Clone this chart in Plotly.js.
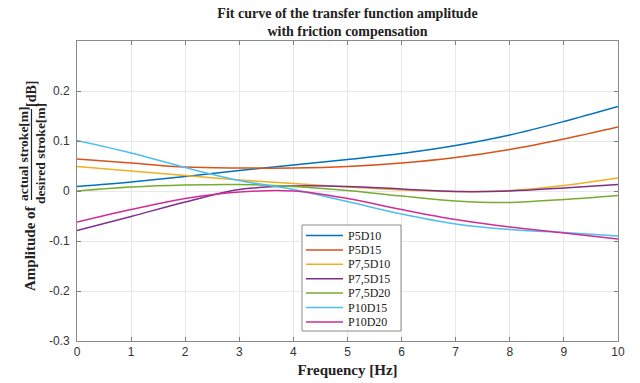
<!DOCTYPE html>
<html>
<head>
<meta charset="utf-8">
<script src="https://cdn.plot.ly/plotly-3.0.1.min.js"></script>
<style>html,body{margin:0;padding:0;background:#fff;}#chart{width:640px;height:383px;}</style>
</head>
<body>
<div id="chart"></div>
<script>
const freq = [0, 1, 2, 3, 4, 5, 6, 7, 8, 9, 10];
const seriesNames = ["P5D10", "P5D15", "P7,5D10", "P7,5D15", "P7,5D20", "P10D15", "P10D20"];
const P5D10   = [0.009, 0.018, 0.029, 0.041, 0.052, 0.063, 0.075, 0.091, 0.112, 0.139, 0.169];
const P5D15   = [0.064, 0.056, 0.048, 0.046, 0.046, 0.049, 0.056, 0.067, 0.083, 0.104, 0.128];
const P75D10  = [0.049, 0.040, 0.031, 0.022, 0.015, 0.008, 0.002, -0.001, 0.001, 0.011, 0.026];
const P75D15  = [-0.079, -0.051, -0.022, 0.003, 0.010, 0.009, 0.004, -0.001, 0.000, 0.006, 0.013];
const P75D20  = [0.000, 0.008, 0.012, 0.013, 0.009, 0.001, -0.010, -0.020, -0.023, -0.017, -0.009];
const P10D15  = [0.101, 0.076, 0.047, 0.021, 0.003, -0.021, -0.046, -0.066, -0.077, -0.083, -0.090];
const P10D20  = [-0.062, -0.037, -0.015, -0.002, 0.000, -0.015, -0.037, -0.057, -0.072, -0.084, -0.096];
const seriesValues = [P5D10, P5D15, P75D10, P75D15, P75D20, P10D15, P10D20];
const colors = ["#0072BD", "#D95319", "#EDB120", "#7E2F8E", "#77AC30", "#4DBEEE", "#D12D95"];
const xTicks = [0, 1, 2, 3, 4, 5, 6, 7, 8, 9, 10];
const yTicks = [-0.3, -0.2, -0.1, 0, 0.1, 0.2];
const yTickText = ["-0.3", "-0.2", "-0.1", "0", "0.1", "0.2"];

const traces = seriesNames.map((n, i) => ({
  x: freq, y: seriesValues[i], name: n, type: "scatter", mode: "lines",
  line: {color: colors[i], width: 1.5, shape: "spline", smoothing: 1}
}));

const serif = "Liberation Serif, Times New Roman, serif";
const sans = "Liberation Sans, Arial, sans-serif";
const W = 541, H = 300, L = 77, T = 41;
const px = v => (v - L) / W;
const py = v => (T + H - v) / H;

const annotations = [
  {text: "<b>Amplitude of</b>", textangle: -90, xref: "paper", yref: "paper",
   x: px(30), y: py(248), xanchor: "center", yanchor: "middle", showarrow: false,
   font: {family: serif, size: 15, color: "#222"}},
  {text: "<b>actual stroke[m]</b>", textangle: -90, xref: "paper", yref: "paper",
   x: px(23), y: py(154), xanchor: "center", yanchor: "middle", showarrow: false,
   font: {family: serif, size: 13.5, color: "#222"}},
  {text: "<b>desired stroke[m]</b>", textangle: -90, xref: "paper", yref: "paper",
   x: px(40), y: py(154), xanchor: "center", yanchor: "middle", showarrow: false,
   font: {family: serif, size: 13.5, color: "#222"}},
  {text: "<b>[dB]</b>", textangle: -90, xref: "paper", yref: "paper",
   x: px(31), y: py(94), xanchor: "center", yanchor: "middle", showarrow: false,
   font: {family: serif, size: 14, color: "#222"}}
];
const shapes = [
  {type: "line", xref: "paper", yref: "paper", x0: px(31.5), x1: px(31.5), y0: py(109), y1: py(200),
   line: {color: "#222", width: 1.2}}
];

// legend box built from the series names and colours
const legL = 302, legR = 401, legT = 225, legB = 331, row0 = 235.5, rowStep = 14.4;
shapes.push({type: "rect", xref: "paper", yref: "paper", x0: px(legL), x1: px(legR), y0: py(legB), y1: py(legT),
  line: {color: "#8a8a8a", width: 1}, fillcolor: "#fff", layer: "above"});
seriesNames.forEach((n, i) => {
  const yy = row0 + i * rowStep;
  shapes.push({type: "line", xref: "paper", yref: "paper", x0: px(306), x1: px(343), y0: py(yy), y1: py(yy),
    line: {color: colors[i], width: 1.5}, layer: "above"});
  annotations.push({text: n, xref: "paper", yref: "paper", x: px(346), y: py(yy), xanchor: "left", yanchor: "middle",
    showarrow: false, font: {family: serif, size: 12, color: "#222"}});
});

const layout = {
  width: 640, height: 383,
  margin: {l: L, r: 640 - L - W, t: T, b: 383 - T - H},
  paper_bgcolor: "#fff", plot_bgcolor: "#fff",
  title: {
    text: "<b>Fit curve of the transfer function amplitude<br>with friction compensation</b>",
    font: {family: serif, size: 14, color: "#222"},
    x: 0.5, xref: "paper", xanchor: "center", y: 0.953, yref: "container", yanchor: "top"
  },
  xaxis: {
    range: [0, 10], tickvals: xTicks, ticks: "inside", ticklen: 4, tickcolor: "#7f7f7f",
    showline: true, linecolor: "#8a8a8a", linewidth: 1, mirror: "ticks",
    showgrid: true, gridcolor: "#e8e8e8", zeroline: false,
    tickfont: {family: sans, size: 12, color: "#333"},
    title: {text: "<b>Frequency [Hz]</b>", font: {family: serif, size: 15, color: "#222"}, standoff: 6}
  },
  yaxis: {
    range: [-0.3, 0.3], tickvals: yTicks, ticktext: yTickText, ticks: "inside", ticklen: 4, tickcolor: "#7f7f7f",
    showline: true, linecolor: "#8a8a8a", linewidth: 1, mirror: "ticks",
    showgrid: true, gridcolor: "#e8e8e8", zeroline: false, ticklabelstandoff: 4,
    tickfont: {family: sans, size: 12, color: "#333"}
  },
  showlegend: false,
  annotations: annotations,
  shapes: shapes
};

Plotly.newPlot("chart", traces, layout, {displayModeBar: false, staticPlot: true});
</script>
</body>
</html>
